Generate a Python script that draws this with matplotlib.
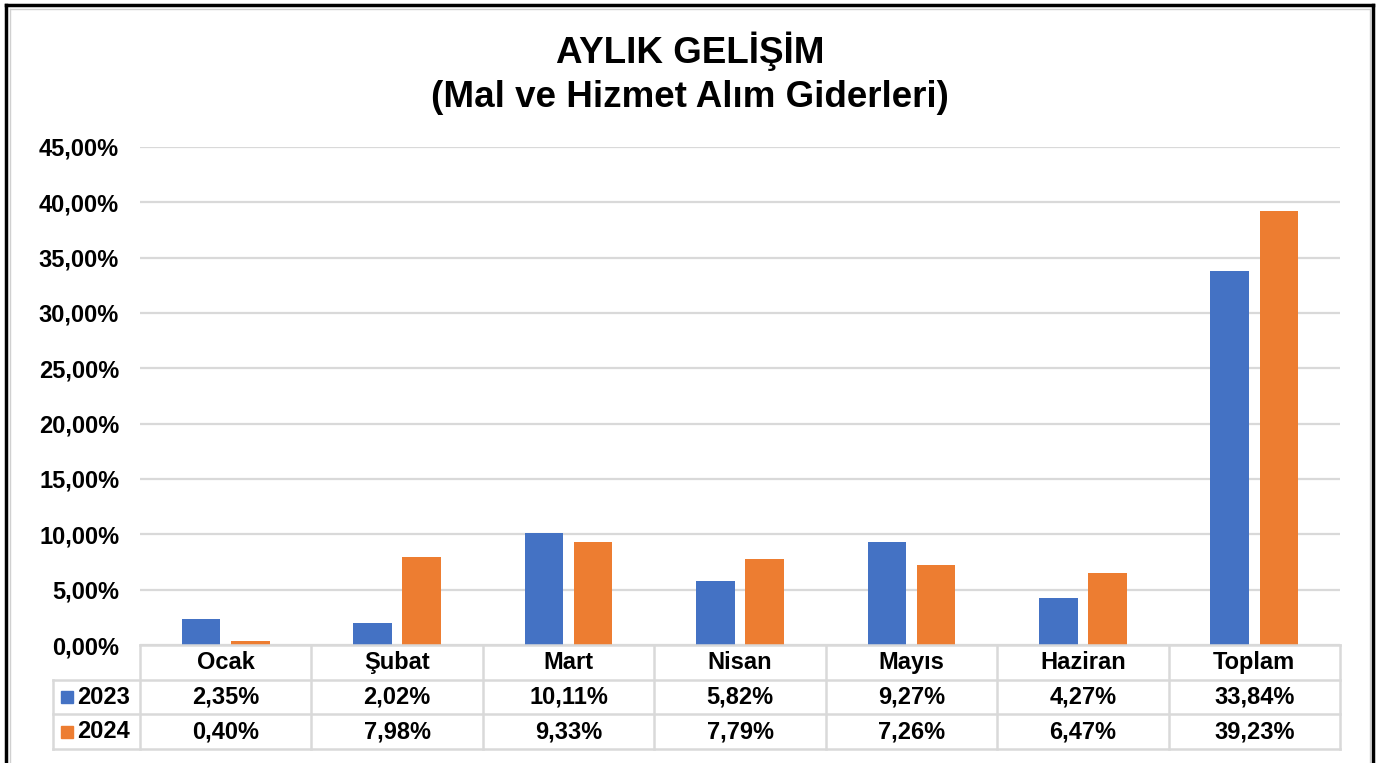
import matplotlib
matplotlib.use('Agg')
import matplotlib.pyplot as plt
from matplotlib.lines import Line2D
from matplotlib.patches import Rectangle
from matplotlib.ticker import FuncFormatter

plt.rcParams['font.family'] = ['Liberation Sans', 'DejaVu Sans']
plt.rcParams['font.weight'] = 'bold'

# data
months = ['Ocak', 'Şubat', 'Mart', 'Nisan', 'Mayıs', 'Haziran', 'Toplam']
years = ['2023', '2024']
vals_2023 = [2.35, 2.02, 10.11, 5.82, 9.27, 4.27, 33.84]
vals_2024 = [0.40, 7.98, 9.33, 7.79, 7.26, 6.47, 39.23]
colors = ['#4472C4', '#ED7D31']

W, H = 1383, 763
fig = plt.figure(figsize=(W / 100, H / 100), dpi=100)

def fx(px):
    return px / W

def fy(py):
    return 1 - py / H

# plot area in pixel terms
left, right, top, base = 140, 1340, 147, 645
ax = fig.add_axes([fx(left), fy(base), fx(right - left), fy(top) - fy(base)])

x = list(range(len(months)))
bw = 0.225
ax.bar([i - 0.143 for i in x], [v / 100 for v in vals_2023], bw, color=colors[0], zorder=3)
ax.bar([i + 0.143 for i in x], [v / 100 for v in vals_2024], bw, color=colors[1], zorder=3)

ax.set_xlim(-0.5, len(months) - 0.5)
ax.set_ylim(0, 0.45)
ax.set_yticks([i * 0.05 for i in range(10)])
ax.yaxis.set_major_formatter(FuncFormatter(lambda v, p: f"{v * 100:.2f}%".replace('.', ',')))
ax.tick_params(axis='y', length=0, pad=15, labelsize=17)
ax.set_xticks([])
for s in ax.spines.values():
    s.set_visible(False)
ax.grid(axis='y', color='#d9d9d9', linewidth=1.6, zorder=0)

fig.suptitle('AYLIK GELİŞİM\n(Mal ve Hizmet Alım Giderleri)', x=0.499, y=fy(32),
             fontsize=26.5, fontweight='bold', va='top', linespacing=1.32)

# data table under the chart
grid_c = '#d9d9d9'
rows_y = [645, 680, 714, 749]
col_w = (right - left) / len(months)
legend_left = 53

def hline(x0, x1, y):
    fig.add_artist(Line2D([fx(x0), fx(x1)], [fy(y), fy(y)], color=grid_c, lw=1.8))

def vline(xp, y0, y1):
    fig.add_artist(Line2D([fx(xp), fx(xp)], [fy(y0), fy(y1)], color=grid_c, lw=1.8))

hline(left, right, rows_y[0])
for yy in rows_y[1:]:
    hline(legend_left, right, yy)
for k in range(len(months) + 1):
    vline(left + k * col_w, rows_y[0], rows_y[3])
vline(legend_left, rows_y[1], rows_y[3])

for k, m in enumerate(months):
    cx = left + (k + 0.5) * col_w
    fig.text(fx(cx), fy((rows_y[0] + rows_y[1]) / 2), m, ha='center', va='center',
             fontsize=17, fontweight='bold')
    for r, vals in enumerate([vals_2023, vals_2024]):
        fig.text(fx(cx), fy((rows_y[r + 1] + rows_y[r + 2]) / 2),
                 f"{vals[k]:.2f}%".replace('.', ','), ha='center', va='center',
                 fontsize=17, fontweight='bold')

for r, yr in enumerate(years):
    cy = (rows_y[r + 1] + rows_y[r + 2]) / 2
    fig.add_artist(Rectangle((fx(61), fy(cy + 6)), fx(12), fy(cy - 6) - fy(cy + 6),
                             color=colors[r], transform=fig.transFigure))
    fig.text(fx(77), fy(cy), yr, ha='left', va='center', fontsize=17, fontweight='bold')

# outer frame (bottom edge is cut off in the original)
for xs, ys in [([6, 6], [5, H + 5]), ([6, 1373], [5, 5]), ([1373, 1373], [5, H + 5])]:
    fig.add_artist(Line2D([fx(v) for v in xs], [fy(v) for v in ys], color='black', lw=2.5))
for xs, ys in [([9.5, 9.5], [8.5, H + 5]), ([9.5, 1369.5], [8.5, 8.5]), ([1369.5, 1369.5], [8.5, H + 5])]:
    fig.add_artist(Line2D([fx(v) for v in xs], [fy(v) for v in ys], color='#d0d0d0', lw=1))

fig.savefig('out.png', dpi=100)
